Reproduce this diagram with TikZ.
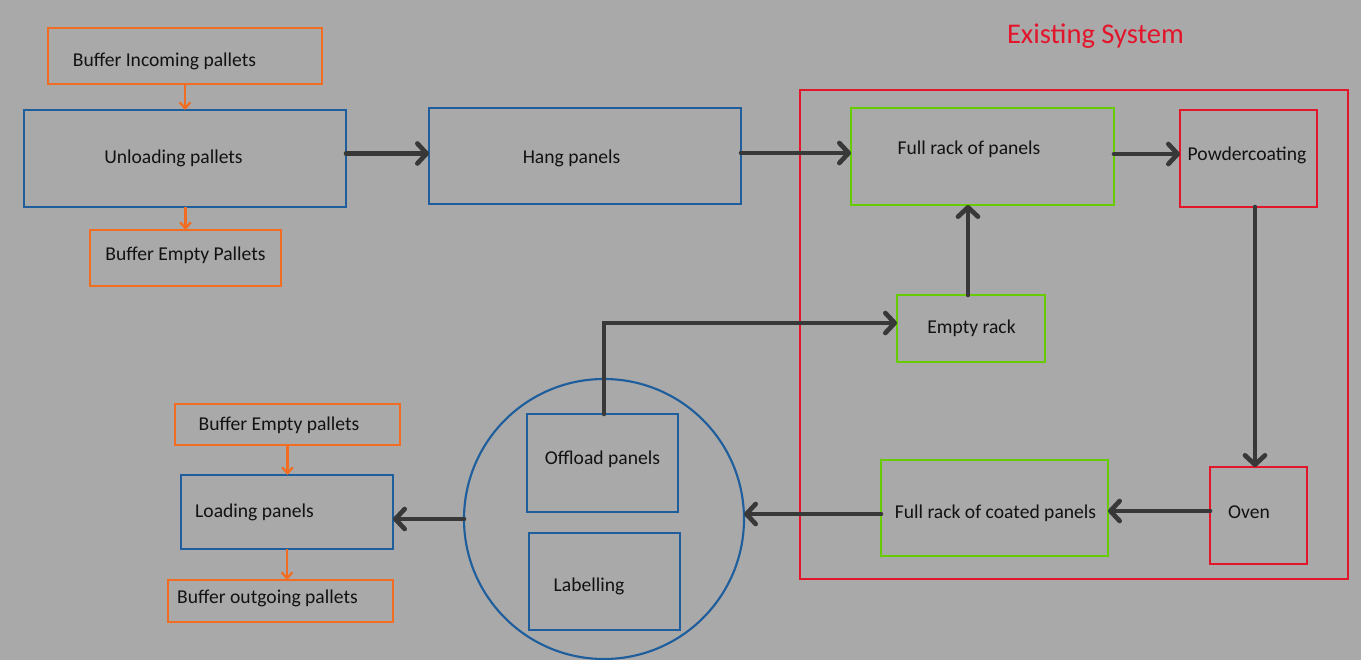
\documentclass[tikz,border=0pt]{standalone}
\usepackage{fontspec}
\setmainfont{Carlito}
\usetikzlibrary{arrows.meta,calc}
\definecolor{bg}{HTML}{A9A9A9}
\definecolor{cblue}{HTML}{1F5E9C}
\definecolor{corange}{HTML}{F26D21}
\definecolor{cgreen}{HTML}{66CC00}
\definecolor{cred}{HTML}{E3152B}
\definecolor{cdark}{HTML}{383838}
\definecolor{ctext}{HTML}{121212}
\tikzset{
  box/.style={draw, line width=1.8pt, inner sep=0pt, outer sep=0pt},
  bluebox/.style={box, draw=cblue},
  orangebox/.style={box, draw=corange},
  greenbox/.style={box, draw=cgreen},
  redbox/.style={box, draw=cred},
  txt/.style={text=ctext, font=\fontsize{14.7}{17}\selectfont, inner sep=0pt, outer sep=0pt},
  flow/.style={draw=cdark, line width=3.5pt, line cap=round,
    -{Straight Barb[length=7pt,width=15pt,line cap=round,line join=round]}},
  oflow/.style={draw=corange, line width=1.7pt,
    -{Straight Barb[length=4.5pt,width=8pt]}}
}
\begin{document}
\begin{tikzpicture}[x=0.75pt,y=-0.75pt]
\useasboundingbox (0,0) rectangle (1361,660);
\fill[bg] (0,0) rectangle (1361,660);
\clip (0,0) rectangle (1361,660);

% Existing system container
\node[box, draw=cred, line width=1.6pt, minimum width=411pt, minimum height=366.75pt] (sys) at (1074,334.5) {};
\node[text=cred, font=\fontsize{21.4}{24}\selectfont, inner sep=0pt] (systitle) at (1095.5,36) {Existing System};

% left upper group
\node[orangebox, minimum width=205.5pt, minimum height=42pt] (bin) at (185,56) {};
\node[txt] (bint) at (164.5,61) {Buffer Incoming pallets};
\node[bluebox, minimum width=241.5pt, minimum height=72.75pt] (unload) at (185,158.5) {};
\node[txt] (unloadt) at (173.5,158) {Unloading pallets};
\node[orangebox, minimum width=143.25pt, minimum height=42pt] (bep) at (185.5,258) {};
\node[txt] (bept) at (185.5,255) {Buffer Empty Pallets};
\node[bluebox, minimum width=234pt, minimum height=72pt] (hang) at (585,156) {};
\node[txt] (hangt) at (571.5,158) {Hang panels};

% existing system nodes
\node[greenbox, minimum width=197.25pt, minimum height=72.75pt] (full) at (982.5,156.5) {};
\node[txt] (fullt) at (969,149) {Full rack of panels};
\node[redbox, minimum width=102.75pt, minimum height=72.75pt] (powder) at (1248.5,158.5) {};
\node[txt] (powdert) at (1247,155) {Powdercoating};
\node[greenbox, minimum width=111pt, minimum height=50.25pt] (empty) at (971,328.5) {};
\node[txt] (emptyt) at (971.5,328) {Empty rack};
\node[greenbox, minimum width=170.25pt, minimum height=72pt] (coated) at (994.5,508) {};
\node[txt] (coatedt) at (995.5,513) {Full rack of coated panels};
\node[redbox, minimum width=72.75pt, minimum height=72.75pt] (oven) at (1258.5,515.5) {};
\node[txt] (ovent) at (1249,512) {Oven};

% circle group
\node[circle, draw=cblue, line width=1.6pt, inner sep=0pt, outer sep=0pt, minimum size=210pt] (grp) at (604,519) {};
\node[bluebox, minimum width=113.25pt, minimum height=73.5pt] (offload) at (602.5,463) {};
\node[txt] (offloadt) at (602.5,459) {Offload panels};
\node[bluebox, minimum width=113.25pt, minimum height=72.75pt] (label) at (604.5,581.5) {};
\node[txt] (labelt) at (589,586) {Labelling};

% left lower group
\node[orangebox, minimum width=168.75pt, minimum height=30.75pt] (bep2) at (287.5,424.5) {};
\node[txt] (bep2t) at (279,425) {Buffer Empty pallets};
\node[bluebox, minimum width=159pt, minimum height=55.5pt] (load) at (287,512) {};
\node[txt] (loadt) at (254.5,512) {Loading panels};
\node[orangebox, minimum width=168.75pt, minimum height=31.5pt] (bout) at (280.5,601) {};
\node[txt] (boutt) at (267.5,598) {Buffer outgoing pallets};

% orange connectors
\draw[oflow] (bin.south) -- (bin.south |- unload.north);
\draw[oflow] (bep.north |- unload.south) -- (bep.north);
\draw[oflow] (bep2.south) -- (bep2.south |- load.north);
\draw[oflow] (load.south) -- (load.south |- bout.north);

% dark connectors
\path ($(unload.east)+(0,-5)$) coordinate (u1);
\draw[flow] (u1) -- (u1 -| hang.west);
\path ($(hang.east)+(0,-3)$) coordinate (h1);
\draw[flow] (h1) -- (h1 -| full.west);
\path ($(full.east)+(0,-2.5)$) coordinate (f1);
\draw[flow] (f1) -- (f1 -| powder.west);
\path ($(empty.north)+(-3,0)$) coordinate (e1);
\draw[flow] (e1) -- (e1 |- full.south);
\path ($(powder.south)+(6.5,0)$) coordinate (p1);
\draw[flow] (p1) -- (p1 |- oven.north);
\path ($(oven.west)+(0,-4.5)$) coordinate (o1);
\draw[flow] (o1) -- (o1 -| coated.east);
\path ($(coated.west)+(0,6)$) coordinate (c1);
\draw[flow] (c1) -- (c1 -| grp.east);
\draw[flow] (grp.west) -- (grp.west -| load.east);
\path ($(empty.west)+(0,-5.5)$) coordinate (m1);
\draw[flow] ($(offload.north)+(1.5,0)$) |- (m1);
\end{tikzpicture}
\end{document}
